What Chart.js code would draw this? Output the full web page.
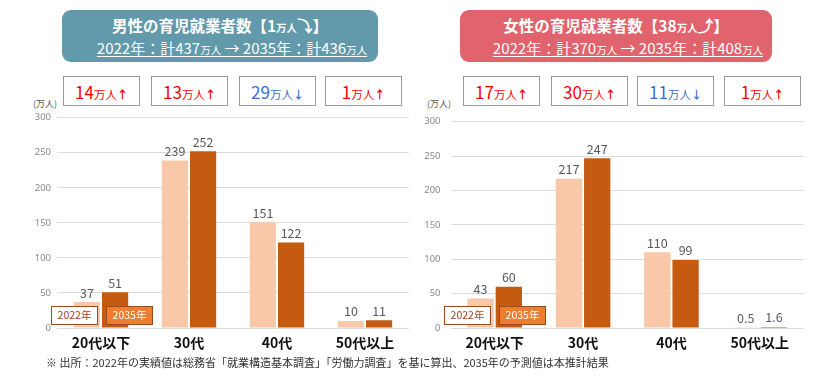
<!DOCTYPE html>
<html>
<head>
<meta charset="utf-8">
<script src="https://cdn.jsdelivr.net/npm/chart.js@4.4.1/dist/chart.umd.min.js"></script>
<style>
  body { margin: 0; background: #fff; font-family: "Noto Sans CJK JP", "Noto Sans", sans-serif; }
  #wrap { position: relative; width: 840px; height: 380px; overflow: hidden; }
  .head { position: absolute; top: 10px; height: 52px; border-radius: 9px; color: #fff; text-align: center; }
  .head .t1 { font-size: 15.5px; font-weight: bold; line-height: 20px; margin-top: 5px; }
  .head .t2 { font-size: 15px; line-height: 20px; padding-left: 24px; }
  .head .t2 span.u { text-decoration: underline; text-underline-offset: 2px; }
  .sm { font-size: 10.5px; }
  .chg { position: absolute; top: 76px; width: 77px; height: 30px; border: 1px solid #9a9a9a; background: #fff;
         text-align: center; line-height: 30px; font-size: 17px; box-sizing: border-box; }
  .chg .sm { font-size: 11.5px; }
  .chg .ar { font-size: 11px; font-weight: bold; }
  .up { color: #ff0000; }
  .down { color: #3a6fd0; }
  .unit { position: absolute; top: 97px; font-size: 9px; color: #555; }
  .lg { position: absolute; top: 306px; width: 47px; height: 19px; box-sizing: border-box; border: 1.5px solid #9b4a1d;
        font-size: 10.5px; line-height: 16px; text-align: center; }
  .lg.a { background: #fff; color: #9b4a1d; }
  .lg.b { background: #ed7d31; color: #fff; }
  canvas { position: absolute; }
  #note { position: absolute; left: 46px; top: 354px; font-size: 11px; color: #333; }
</style>
</head>
<body>
<div id="wrap">
  <div class="head" style="left:62px;width:316px;background:#6299ab;">
    <div class="t1">男性の育児就業者数【1<span class="sm">万人</span>⤵】</div>
    <div class="t2"><span class="u">2022年：計437<span class="sm">万人</span> → 2035年：計436<span class="sm">万人</span></span></div>
  </div>
  <div class="head" style="left:460px;width:312px;background:#e0636d;">
    <div class="t1">女性の育児就業者数【38<span class="sm">万人</span>⤴】</div>
    <div class="t2"><span class="u">2022年：計370<span class="sm">万人</span> → 2035年：計408<span class="sm">万人</span></span></div>
  </div>
  <div id="boxes"></div>
  <div class="unit" style="left:33px;">(万人)</div>
  <div class="unit" style="left:427px;">(万人)</div>
  <canvas id="male" width="392" height="249" style="left:20px;top:106px;"></canvas>
  <canvas id="female" width="394" height="249" style="left:413px;top:106px;"></canvas>
  <div class="lg a" style="left:51px;">2022年</div>
  <div class="lg b" style="left:106px;">2035年</div>
  <div class="lg a" style="left:444px;">2022年</div>
  <div class="lg b" style="left:499px;">2035年</div>
  <div id="note">※ 出所：2022年の実績値は総務省「就業構造基本調査」「労働力調査」を基に算出、2035年の予測値は本推計結果</div>
</div>
<script>
// ---- data ----
const categories = ['20代以下', '30代', '40代', '50代以上'];
const male2022 = [37, 239, 151, 10];
const male2035 = [51, 252, 122, 11];
const female2022 = [43, 217, 110, 0.5];
const female2035 = [60, 247, 99, 1.6];
const maleChange = ['14', '13', '29', '1'];
const maleDir = ['up', 'up', 'down', 'up'];
const femaleChange = ['17', '30', '11', '1'];
const femaleDir = ['up', 'up', 'down', 'up'];
const yTicks = [0, 50, 100, 150, 200, 250, 300];

// change boxes above each category
function addBoxes(lefts, values, dirs) {
    const holder = document.getElementById('boxes');
    values.forEach((v, i) => {
        const d = document.createElement('div');
        d.className = 'chg ' + dirs[i];
        d.style.left = lefts[i] + 'px';
        d.innerHTML = v + '<span class="sm">万人</span><span class="ar">' + (dirs[i] === 'up' ? '↑' : '↓') + '</span>';
        holder.appendChild(d);
    });
}
addBoxes([63, 151, 239, 325], maleChange, maleDir);
addBoxes([463, 551, 637, 724], femaleChange, femaleDir);

// value labels above bars
const valueLabels = {
    id: 'valueLabels',
    afterDatasetsDraw(chart) {
        const ctx = chart.ctx;
        ctx.save();
        ctx.font = '12.5px "Noto Sans CJK JP", sans-serif';
        ctx.fillStyle = '#595959';
        ctx.textAlign = 'center';
        ctx.textBaseline = 'bottom';
        chart.data.datasets.forEach((ds, i) => {
            chart.getDatasetMeta(i).data.forEach((bar, j) => {
                ctx.fillText(String(ds.data[j]), bar.x, bar.y - 3);
            });
        });
        ctx.restore();
    }
};

function createChart(canvasId, data2022, data2035, yWidth, tickPad) {
    const ctx = document.getElementById(canvasId).getContext('2d');
    return new Chart(ctx, {
        type: 'bar',
        data: {
            labels: categories,
            datasets: [{
                label: '2022年',
                data: data2022,
                backgroundColor: '#f8c8a9'
            }, {
                label: '2035年',
                data: data2035,
                backgroundColor: '#c55a11'
            }]
        },
        options: {
            responsive: false,
            animation: false,
            categoryPercentage: 0.64,
            barPercentage: 0.93,
            layout: { padding: { top: 7, right: 3, left: 0, bottom: 0 } },
            plugins: {
                legend: { display: false },
                tooltip: { enabled: false }
            },
            scales: {
                x: {
                    grid: { display: false, tickLength: 4 },
                    border: { display: false },
                    ticks: {
                        color: '#111',
                        padding: 2,
                        font: { size: 14, weight: 'bold', family: '"Noto Sans CJK JP", sans-serif' }
                    },
                    afterFit(scale) { scale.height = 27; }
                },
                y: {
                    min: 0,
                    max: 300,
                    afterBuildTicks(scale) { scale.ticks = yTicks.map(v => ({ value: v })); },
                    grid: { color: '#dddddd', drawTicks: false },
                    border: { display: false },
                    ticks: {
                        color: '#8a8a8a',
                        padding: tickPad,
                        font: { size: 9.5, family: '"Noto Sans", sans-serif' }
                    },
                    afterFit(scale) { scale.width = yWidth; }
                }
            }
        },
        plugins: [valueLabels]
    });
}

createChart('male', male2022, male2035, 37, 6);
createChart('female', female2022, female2035, 37.5, 10);
</script>
</body>
</html>
